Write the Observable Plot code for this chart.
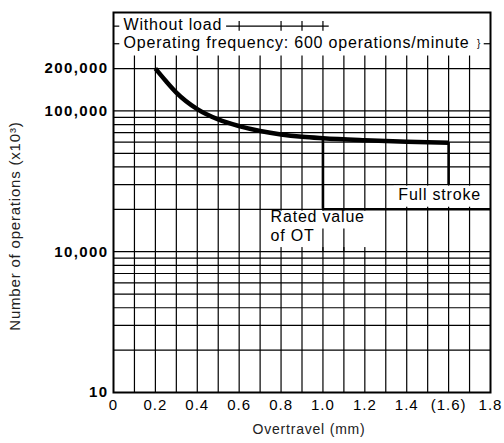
<!DOCTYPE html>
<html><head><meta charset="utf-8">
<script src="https://cdn.jsdelivr.net/npm/d3@7"></script>
<script src="https://cdn.jsdelivr.net/npm/@observablehq/plot@0.6"></script>
<style>
body{margin:0;background:#fff}
#chart svg text{letter-spacing:0.8px}
#chart g[aria-label="y-axis tick label"] text{letter-spacing:1.4px}
#chart g[aria-label="x-axis tick label"] text{letter-spacing:1px}
</style>
</head><body><div id="chart"></div>
<script>
// Life curve: overtravel (mm) vs number of operations (x10^3)
const overtravel = [0.2, 0.25, 0.3, 0.4, 0.5, 0.6, 0.7, 0.8, 0.9, 1.0, 1.2, 1.4, 1.6];
const operations = [200000, 163000, 135000, 103000, 87000, 78000, 72000, 68000, 65500, 64000, 62000, 60500, 59500];

const xTicks = [0, 0.2, 0.4, 0.6, 0.8, 1.0, 1.2, 1.4, 1.6, 1.8];
const xTickLabels = ["0", "0.2", "0.4", "0.6", "0.8", "1.0", "1.2", "1.4", "(1.6)", "1.8"];
const yTicks = [1000, 10000, 50000, 100000, 200000];
const yTickLabels = ["10", "10,000", "50,000", "100,000", "200,000"];

const xGrid = [0.1, 0.2, 0.3, 0.4, 0.5, 0.6, 0.7, 0.8, 0.9, 1.0, 1.1, 1.2, 1.3, 1.4, 1.5, 1.6, 1.7];
const yGrid = [2000, 3000, 4000, 5000, 6000, 7000, 8000, 9000, 10000,
               20000, 30000, 40000, 50000, 60000, 70000, 80000, 90000, 100000, 200000];

const ratedOT = 1.0;
const fullStroke = 1.6;
const ratedFloor = 20000;
const fullFloor = 30000;

const notes = [
  {text: "Without load", x: 0.048, y: 410000},
  {text: "Operating frequency: 600 operations/minute", x: 0.048, y: 302000},
  {text: "Full stroke", x: 1.36, y: 25500},
  {text: "Rated value", x: 0.75, y: 17600},
  {text: "of OT", x: 0.75, y: 12900}
];
// white label backgrounds (data units)
const boxes = [
  {x1: 1.34, x2: 1.797, y1: 20700, y2: 29200},
  {x1: 0.72, x2: 1.23, y1: 10700, y2: 19400}
];

const curve = overtravel.map((x, i) => ({x, y: operations[i]}));
const opAt = (x) => operations[overtravel.indexOf(x)];

const font = "Liberation Sans, Arial, Helvetica, sans-serif";

const chart = Plot.plot({
  width: 504,
  height: 443,
  marginLeft: 113,
  marginRight: 14,
  marginTop: 12,
  marginBottom: 51,
  style: {fontFamily: font, background: "white", color: "#000"},
  x: {domain: [0, 1.8]},
  y: {type: "log", domain: [1000, 500000]},
  marks: [
    Plot.ruleX(xGrid, {x: d => d, y1: 1000, y2: 245000, stroke: "#000", strokeWidth: 1.2}),
    Plot.ruleY(yGrid, {y: d => d, x1: 0, x2: 1.8, stroke: "#000", strokeWidth: 1.2}),
    Plot.rect(boxes, {x1: "x1", x2: "x2", y1: "y1", y2: "y2", fill: "white"}),
    Plot.ruleX([1.0, 1.1], {x: d => d, y1: 10000, y2: 14500, stroke: "#000", strokeWidth: 1.2}),
    // stubs of hidden grid lines near the header text
    Plot.ruleY([{y: 400000, a: 0.54, b: 1.03}, {y: 400000, a: 0, b: 0.03}, {y: 300000, a: 0, b: 0.03}, {y: 300000, a: 1.77, b: 1.8}],
      {y: "y", x1: "a", x2: "b", stroke: "#000", strokeWidth: 1.2}),
    Plot.ruleX([0.6, 0.8, 0.9, 1.0], {x: d => d, y1: 368000, y2: 432000, stroke: "#000", strokeWidth: 1.2}),
    // rated value and full stroke markers
    Plot.ruleX([ratedOT], {x: d => d, y1: ratedFloor, y2: opAt(ratedOT), stroke: "#000", strokeWidth: 2.6}),
    Plot.ruleX([fullStroke], {x: d => d, y1: fullFloor, y2: opAt(fullStroke), stroke: "#000", strokeWidth: 2.6}),
    Plot.ruleY([ratedFloor], {y: d => d, x1: ratedOT, x2: 1.8, stroke: "#000", strokeWidth: 2.6}),
    Plot.line(curve, {x: "x", y: "y", curve: "monotone-x", stroke: "#000", strokeWidth: 4.5, strokeLinecap: "butt"}),
    Plot.text(notes, {x: "x", y: "y", text: "text", textAnchor: "start", fontSize: 16, fill: "#000"}),
    Plot.text(["}"], {x: 1.735, y: 302000, text: d => d, textAnchor: "start", fontSize: 10, fill: "#000"}),
    Plot.frame({stroke: "#000", strokeWidth: 2}),
    Plot.axisY(yTicks, {tickFormat: d => yTickLabels[yTicks.indexOf(d)], tickSize: 0, tickPadding: 5,
      fontSize: 15, fontWeight: "bold", label: null}),
    Plot.axisX(xTicks, {tickFormat: d => xTickLabels[xTicks.indexOf(d)], tickSize: 0, tickPadding: 7,
      fontSize: 15, label: null}),
    Plot.text(["Number of operations (x10³)"], {frameAnchor: "left", y: () => 15200, rotate: -90, dx: -98,
      textAnchor: "middle", fontSize: 15, fill: "#222"}),
    Plot.text(["Overtravel (mm)"], {frameAnchor: "bottom", dx: 7, dy: 41, fontSize: 14, fill: "#222"})
  ]
});
document.getElementById("chart").appendChild(chart);
</script>
</body></html>
